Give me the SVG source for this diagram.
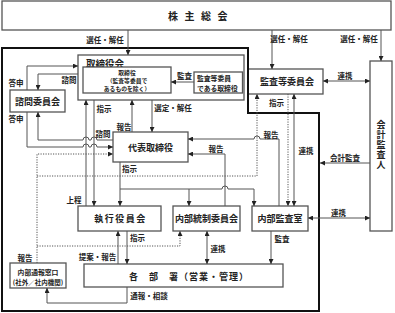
<svg xmlns="http://www.w3.org/2000/svg" width="395" height="313" viewBox="0 0 395 313">
<defs>
<marker id="ah" viewBox="0 0 6 6" refX="6" refY="3" markerWidth="5" markerHeight="5" markerUnits="userSpaceOnUse" orient="auto-start-reverse"><path d="M0,0 L6,3 L0,6 z" fill="#222"/></marker>
</defs>
<style>
.box{fill:#fff;stroke:#555;stroke-width:1.3}
.frame{fill:none;stroke:#111;stroke-width:2}
.ln{fill:none;stroke:#555;stroke-width:1}
.dt{fill:none;stroke:#555;stroke-width:1;stroke-dasharray:1.2 1.3}
.arr{marker-end:url(#ah)}
.dbl{marker-start:url(#ah);marker-end:url(#ah)}
text{font-family:"Noto Sans CJK JP","Noto Sans",sans-serif;fill:#222;font-weight:bold}
.nl{font-size:9px;text-anchor:middle;dominant-baseline:central}
.lb{font-size:7.5px;text-anchor:middle;dominant-baseline:central}
.sm{font-size:5.8px;text-anchor:middle;dominant-baseline:central}
</style>
<rect width="395" height="313" fill="#fff"/>

<g id="shareholders">
<rect class="box" x="2" y="1" width="389" height="29"/>
<text class="nl" x="201" y="15.5" style="font-size:10px;letter-spacing:6.5px">株主総会</text>
</g>

<g id="board">
<rect class="box" x="78" y="55" width="166" height="45"/>
<text class="nl" x="105" y="62.5" style="font-size:9.5px">取締役会</text>
</g>
<g id="directors">
<rect class="box" x="83" y="67" width="88" height="26"/>
<text class="sm"><tspan x="127" y="72.2">取締役</tspan><tspan x="127" y="80">（監査等委員で</tspan><tspan x="127" y="87.8">あるものを除く）</tspan></text>
</g>
<g id="audit-directors">
<rect class="box" x="194" y="72" width="48.5" height="21"/>
<text class="sm" style="text-anchor:start;font-size:6.8px"><tspan x="197" y="77.5">監査等委員</tspan><tspan x="197" y="88">である取締役</tspan></text>
</g>
<g id="audit-committee">
<rect class="box" x="248" y="69" width="75" height="25"/>
<text class="nl" x="287" y="81.5">監査等委員会</text>
</g>
<g id="accounting-auditor">
<rect class="box" x="370" y="61" width="22" height="170"/>
<text class="nl" x="381" y="145" style="writing-mode:vertical-rl;letter-spacing:1px">会計監査人</text>
</g>
<g id="advisory-committee">
<rect class="box" x="10" y="90" width="55" height="22"/>
<text class="nl" x="37.5" y="101">諮問委員会</text>
</g>
<g id="representative-director">
<rect class="box" x="113" y="132" width="75" height="30"/>
<text class="nl" x="150.5" y="147">代表取締役</text>
</g>
<g id="executive-committee">
<rect class="box" x="78" y="206" width="83" height="25"/>
<text class="nl" x="120.5" y="218.5" style="letter-spacing:1.5px">執行役員会</text>
</g>
<g id="internal-control-committee">
<rect class="box" x="173" y="206" width="67" height="25"/>
<text class="nl" x="206.5" y="218.5">内部統制委員会</text>
</g>
<g id="internal-audit-office">
<rect class="box" x="252" y="206" width="56" height="25"/>
<text class="nl" x="280" y="218.5">内部監査室</text>
</g>
<g id="departments">
<rect class="box" x="84" y="264" width="199" height="23"/>
<text class="nl" x="189" y="276" style="letter-spacing:1px">各　部　署（営業・管理）</text>
</g>
<g id="whistleblowing">
<rect class="box" x="10" y="263" width="56" height="25"/>
<text class="sm" style="font-size:6.8px"><tspan x="38" y="272">内部通報窓口</tspan><tspan x="38" y="281.5" style="font-size:6.5px">(社外／社内機関)</tspan></text>
</g>

<g id="frame">
<path class="frame" d="M2,48 H248 V113 H319 V311 H2 Z"/>
</g>

<g id="connectors">
<path class="ln arr" d="M128,30 V55"/>
<text class="lb" x="105" y="39.5">選任・解任</text>
<path class="ln arr" d="M272,30 V69"/>
<text class="lb" x="289" y="38.5">選任・解任</text>
<path class="ln arr" d="M381,30 V61"/>
<text class="lb" x="359" y="38.5">選任・解任</text>
<path class="ln dbl" d="M323,81 H370"/>
<text class="lb" x="345" y="75">連携</text>
<path class="ln arr" d="M194,82 H171"/>
<text class="lb" x="184.5" y="75.5">監査</text>

<path class="ln arr" d="M78,74 H38 V90"/>
<text class="lb" x="69" y="79">諮問</text>
<path class="ln arr" d="M27,90 V66 H78"/>
<text class="lb" x="16" y="82.5">答申</text>
<path class="ln arr" d="M27,112 V147 H83 A3,3 0 0 1 89,147 H91 A3,3 0 0 1 97,147 H113"/>
<text class="lb" x="16" y="118">答申</text>
<path class="ln arr" d="M113,140 H97 A3,3 0 0 0 91,140 H89 A3,3 0 0 0 83,140 H38 V112"/>
<text class="lb" x="103" y="133">諮問</text>

<path class="ln arr" d="M86,206 V100"/>
<text class="lb" x="74" y="199">上程</text>
<path class="ln arr" d="M94,100 V206"/>
<text class="lb" x="104" y="108">指示</text>
<path class="ln arr" d="M132,132 V100"/>
<text class="lb" x="124" y="126">報告</text>
<path class="ln arr" d="M152,100 V132"/>
<text class="lb" x="173" y="107">選定・解任</text>

<path class="ln arr" d="M279,206 V139 H260 A3,3 0 0 0 254,139 H188"/>
<text class="lb" x="271" y="134">報告</text>
<path class="ln arr" d="M225,206 V154 H188"/>
<text class="lb" x="216" y="148.5">報告</text>

<path class="ln arr" d="M120,162 V206"/>
<path class="ln arr" d="M120,189 H222 A3,3 0 0 1 228,189 H254 V206"/>
<path class="ln arr" d="M189,189 V206"/>
<text class="lb" x="129.5" y="168">指示</text>

<path class="dt arr" d="M37,263 V154 H113"/>
<path class="dt arr" d="M37,176 H257 V94"/>
<path class="dt arr" d="M37,246 H180 V231"/>
<text class="lb" x="25" y="257">報告</text>

<path class="dt arr" d="M288,94 V206"/>
<text class="lb" x="276.5" y="102">指示</text>
<path class="ln dbl" d="M294,94 V206"/>
<text class="lb" x="306" y="150">連携</text>

<path class="ln arr" d="M370,163 H320"/>
<text class="lb" x="345" y="157">会計監査</text>
<path class="ln dbl" d="M308,218 H370"/>
<text class="lb" x="338.5" y="212">連携</text>

<path class="ln arr" d="M271,231 V264"/>
<text class="lb" x="282" y="238">監査</text>
<path class="ln dbl" d="M207,231 V264"/>
<text class="lb" x="218" y="248">連携</text>
<path class="ln arr" d="M118,264 V231"/>
<text class="lb" x="97.5" y="256">提案・報告</text>
<path class="ln arr" d="M127,231 V264"/>
<text class="lb" x="137.5" y="237">指示</text>
<path class="ln arr" d="M127,287 V303 H47 V288"/>
<text class="lb" x="149" y="295">通報・相談</text>
</g>
</svg>
